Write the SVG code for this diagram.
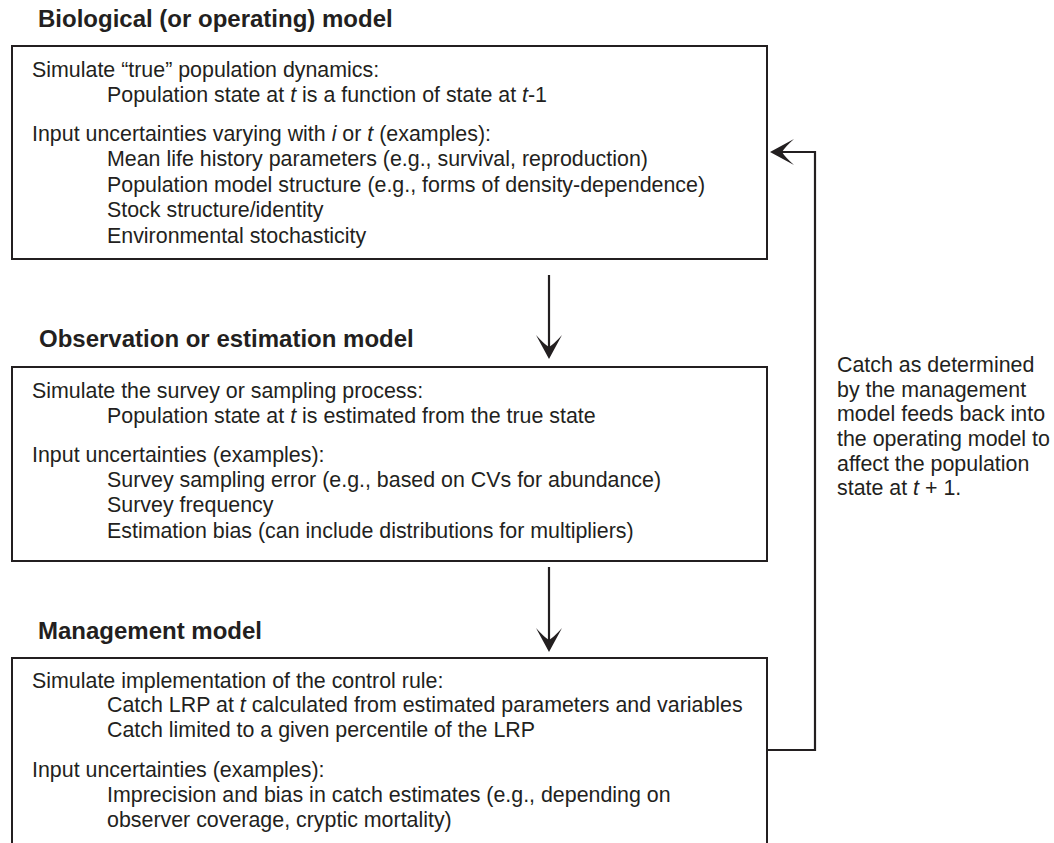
<svg xmlns="http://www.w3.org/2000/svg" width="1054" height="843" viewBox="0 0 1054 843">
<style>
  .box { fill: #ffffff; stroke: #231f20; stroke-width: 2; }
  .title { font-family: "Liberation Sans", Arial, sans-serif; font-weight: bold; font-size: 24px; fill: #231f20; }
  .txt { font-family: "Liberation Sans", Arial, sans-serif; font-size: 21.4px; fill: #231f20; }
  .it { font-style: italic; }
  .conn { fill: none; stroke: #231f20; stroke-width: 2.2; }
</style>
<defs>
  <marker id="ah" viewBox="-26 -15 30 30" refX="-10" refY="0" markerWidth="30" markerHeight="30" markerUnits="userSpaceOnUse" orient="auto">
    <path d="M0,0 L-24,-13 Q-15,-5 -12,0 Q-15,5 -24,13 Z" fill="#231f20"/>
  </marker>
</defs>
<rect width="1054" height="843" fill="#ffffff"/>

<g id="biological">
  <text class="title" x="38" y="27">Biological (or operating) model</text>
  <rect class="box" x="12" y="46" width="755" height="213"/>
  <text class="txt" x="32" y="77">Simulate “true” population dynamics:</text>
  <text class="txt" x="107" y="102">Population state at <tspan class="it">t</tspan> is a function of state at <tspan class="it">t</tspan>-1</text>
  <text class="txt" x="32" y="141">Input uncertainties varying with <tspan class="it">i</tspan> or <tspan class="it">t</tspan> (examples):</text>
  <text class="txt" x="107" y="166">Mean life history parameters (e.g., survival, reproduction)</text>
  <text class="txt" x="107" y="192">Population model structure (e.g., forms of density-dependence)</text>
  <text class="txt" x="107" y="217">Stock structure/identity</text>
  <text class="txt" x="107" y="243">Environmental stochasticity</text>
</g>

<g id="observation">
  <text class="title" x="39" y="347">Observation or estimation model</text>
  <rect class="box" x="12" y="367" width="755" height="194"/>
  <text class="txt" x="32" y="398">Simulate the survey or sampling process:</text>
  <text class="txt" x="107" y="423">Population state at <tspan class="it">t</tspan> is estimated from the true state</text>
  <text class="txt" x="32" y="462">Input uncertainties (examples):</text>
  <text class="txt" x="107" y="487">Survey sampling error (e.g., based on CVs for abundance)</text>
  <text class="txt" x="107" y="512">Survey frequency</text>
  <text class="txt" x="107" y="538">Estimation bias (can include distributions for multipliers)</text>
</g>

<g id="management">
  <text class="title" x="38" y="639">Management model</text>
  <rect class="box" x="12" y="658" width="755" height="200"/>
  <text class="txt" x="32" y="688">Simulate implementation of the control rule:</text>
  <text class="txt" x="107" y="712">Catch LRP at <tspan class="it">t</tspan> calculated from estimated parameters and variables</text>
  <text class="txt" x="107" y="737">Catch limited to a given percentile of the LRP</text>
  <text class="txt" x="32" y="777">Input uncertainties (examples):</text>
  <text class="txt" x="107" y="802">Imprecision and bias in catch estimates (e.g., depending on</text>
  <text class="txt" x="107" y="827">observer coverage, cryptic mortality)</text>
</g>

<g id="feedback-label">
  <text class="txt" x="837" y="372">Catch as determined</text>
  <text class="txt" x="837" y="397">by the management</text>
  <text class="txt" x="837" y="421">model feeds back into</text>
  <text class="txt" x="837" y="446">the operating model to</text>
  <text class="txt" x="837" y="471">affect the population</text>
  <text class="txt" x="837" y="495">state at <tspan class="it">t</tspan> + 1.</text>
</g>

<g id="connectors">
  <path class="conn" d="M549,275 V349" marker-end="url(#ah)"/>
  <path class="conn" d="M549,567 V642" marker-end="url(#ah)"/>
  <path class="conn" d="M767,750 H815 V152 H780" marker-end="url(#ah)"/>
</g>
</svg>
